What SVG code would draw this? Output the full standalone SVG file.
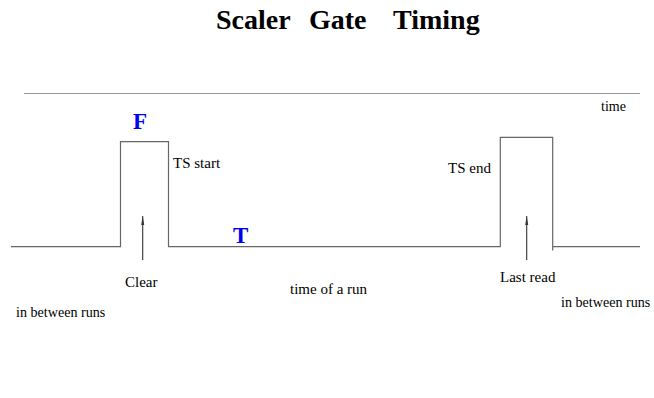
<svg xmlns="http://www.w3.org/2000/svg" width="654" height="398" viewBox="0 0 654 398">
<defs>
<style>
.t{font-family:"Liberation Serif","Times New Roman",serif;font-size:15px;fill:#000}
.s{font-size:14.1px}
.m{font-size:14px}
.b{font-family:"Liberation Serif","Times New Roman",serif;font-weight:bold;fill:#0000ee;font-size:23px}
.w{fill:none;stroke:#666;stroke-width:1.2}
.a{stroke:#333;stroke-width:1.1;fill:none}
</style>
<marker id="ah" viewBox="0 0 9 4" refX="9" refY="2" markerWidth="9" markerHeight="4" markerUnits="userSpaceOnUse" orient="auto">
<path d="M0,0.5 L9,2 L0,3.5 Z" fill="#333"/>
</marker>
</defs>
<rect width="654" height="398" fill="#fff"/>
<g id="title" font-family="Liberation Serif, Times New Roman, serif" font-weight="bold" font-size="28" fill="#000">
<text x="216" y="28.5">Scaler</text>
<text x="309" y="28.5">Gate</text>
<text x="393" y="28.5">Timing</text>
</g>
<g id="axis">
<line x1="24" y1="93.5" x2="640" y2="93.5" stroke="#999" stroke-width="1.2"/>
<text class="t m" x="601" y="110.5">time</text>
</g>
<g id="waveform">
<path class="w" d="M11,246.7 H120.5 V141.7 H168.5 V246.7 H500.3 V137.3 H552.7 V250.5"/>
<path class="w" d="M552.7,246.7 H640"/>
</g>
<g id="connectors">
<line class="a" x1="142.7" y1="260" x2="142.7" y2="216" marker-end="url(#ah)"/>
<line class="a" x1="526.7" y1="260" x2="526.7" y2="216" marker-end="url(#ah)"/>
</g>
<g id="labels">
<text class="b" x="133" y="129.3">F</text>
<text class="b" x="233" y="242.7">T</text>
<text class="t" x="173" y="168.3">TS start</text>
<text class="t" x="448" y="173.3">TS end</text>
<text class="t" x="125" y="286.7">Clear</text>
<text class="t" x="290" y="294">time of a run</text>
<text class="t" x="500" y="281.7">Last read</text>
<text class="t s" x="16" y="317.3">in between runs</text>
<text class="t s" x="561" y="307.3">in between runs</text>
</g>
</svg>
